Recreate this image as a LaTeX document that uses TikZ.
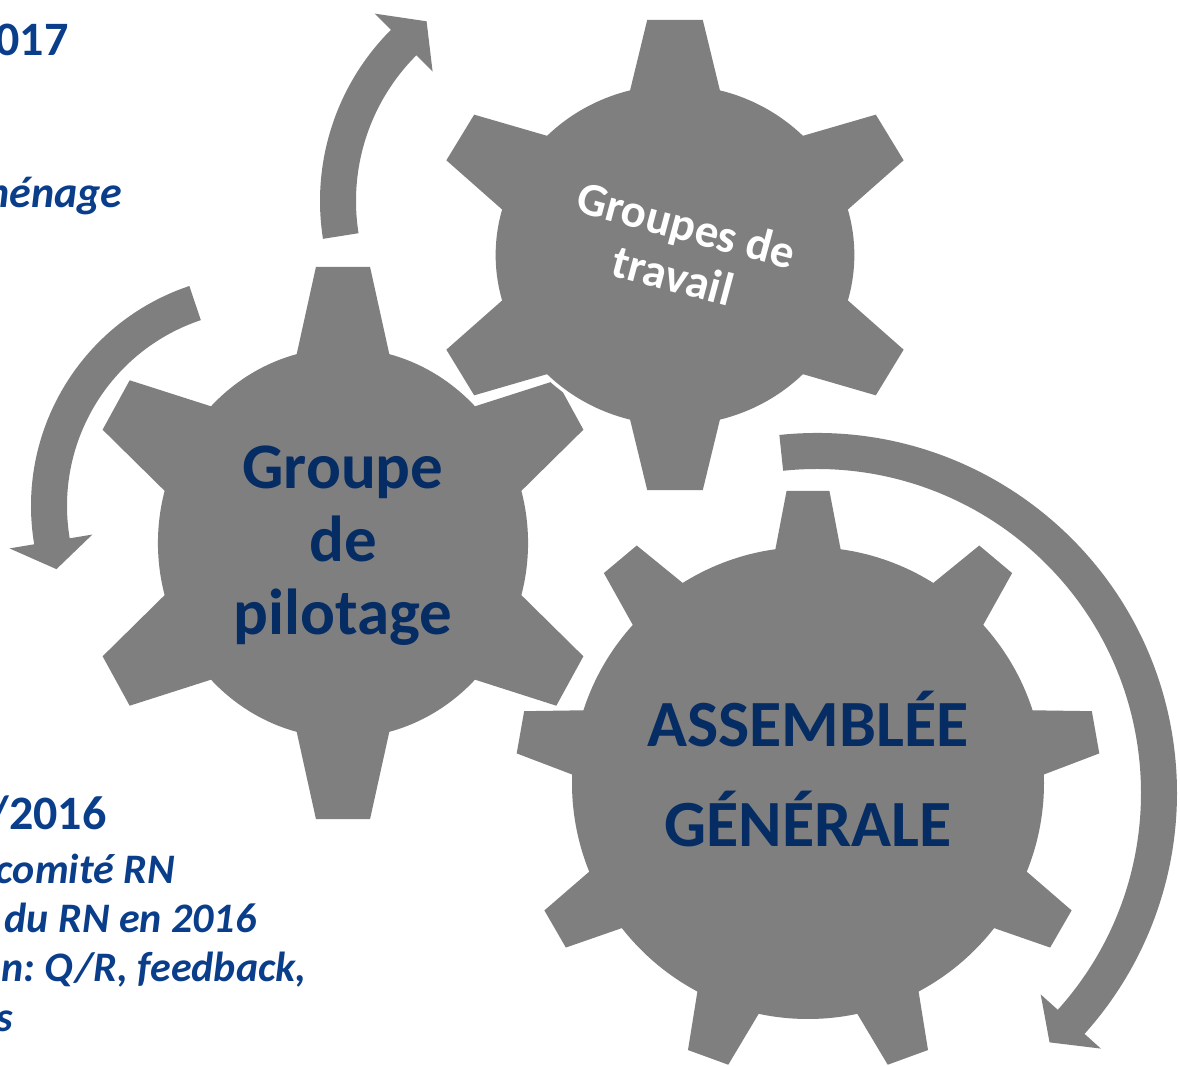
\documentclass[tikz,border=0pt]{standalone}
\usepackage{fontspec}
\setmainfont{Carlito}
\frenchspacing

\definecolor{gearcol}{RGB}{127,127,127}
\definecolor{navy}{RGB}{6,44,100}
\definecolor{planblue}{RGB}{10,62,138}

% body, then teeth: list, body r, foot r, foot angle, tip r, tip angle
\newcommand{\gear}[6]{%
  \draw[gearedge] (0,0) circle[radius=#2];
  \foreach \a in {#1}
    \draw[gearedge] ({\a-#4}:#3) -- ({\a-#6}:#5) -- ({\a+#6}:#5) -- ({\a+#4}:#3) -- cycle;
  \fill[gearfill] (0,0) circle[radius=#2];
  \foreach \a in {#1}
    \fill[gearfill] ({\a-#4}:#3) -- ({\a-#6}:#5) -- ({\a+#6}:#5) -- ({\a+#4}:#3) -- cycle;
}

\begin{document}
\begin{tikzpicture}[x=0.5pt,y=0.5pt,
  gearfill/.style={fill=gearcol},
  gearedge/.style={draw=white,line width=3.5pt},
  boldnote/.style={anchor=base east,inner sep=0pt,text=planblue,font=\fontsize{24}{28}\selectfont\bfseries},
  itnote/.style={anchor=base east,inner sep=0pt,text=planblue,font=\fontsize{21}{25}\selectfont\bfseries\itshape}]
\useasboundingbox (0,0) rectangle (1180,1066);

% groupe de pilotage
\begin{scope}[shift={(343,523)},xscale=0.949]
\gear{30,90,...,330}{195}{178}{17.4}{277.5}{5.9}
\end{scope}

% assemblee generale
\begin{scope}[shift={(808,283)}]
\gear{90,130,...,410}{236}{222.8}{9.1}{292.8}{4.2}
\end{scope}

% groupes de travail
\begin{scope}[shift={(675,811)},xscale=1.055]
\gear{30,90,...,330}{170}{157}{17}{236.5}{6.4}
\end{scope}

% arrows
\begin{scope}[shift={(562,865)}]
\fill[gearfill] (189:242) arc[start angle=189,end angle=135,radius=242]
  -- (135:265) -- (127:225) -- (135:183) -- (135:206)
  arc[start angle=135,end angle=189,radius=206] -- cycle;
\end{scope}
\begin{scope}[shift={(263,560)}]
\fill[gearfill] (108.5:232) arc[start angle=108.5,end angle=189.5,radius=232]
  -- (189.5:257) -- (197:216) -- (189.5:173) -- (189.5:196)
  arc[start angle=189.5,end angle=108.5,radius=196] -- cycle;
\end{scope}
\begin{scope}[shift={(817,273)}]
\fill[gearfill] (96:360) arc[start angle=96,end angle=-42,radius=360]
  -- (-42:382) -- (-47:341) -- (-42:301) -- (-42:324)
  arc[start angle=-42,end angle=96,radius=324] -- cycle;
\end{scope}

\node[align=center,text=navy,font=\fontsize{32.5}{36.5}\selectfont\bfseries] (pilotage) at (343,520) {Groupe\\de\\pilotage};
\node[align=center,text=navy,font=\fontsize{33}{50}\selectfont\bfseries] (assemblee) at (808,297) {ASSEMBLÉE\\GÉNÉRALE};
\node[align=center,text=white,rotate=-15,font=\fontsize{23.5}{26}\selectfont\bfseries] (travail) at (680,816) {Groupes de\\travail};

\node[boldnote] (t2017) at (69,1010) {017};
\node[itnote,font=\fontsize{22}{26}\selectfont\bfseries\itshape] (tmenage) at (123,858) {nénage};
\node[boldnote] (t2016) at (107,236) {/2016};
\node[itnote] (tcomite) at (175,182) {comité RN};
\node[itnote] (tdurn) at (257,133) {du RN en 2016};
\node[itnote] (tqr) at (307,84) {n: Q/R, feedback,};
\node[itnote] (ts) at (13,34) {s};

\end{tikzpicture}
\end{document}
